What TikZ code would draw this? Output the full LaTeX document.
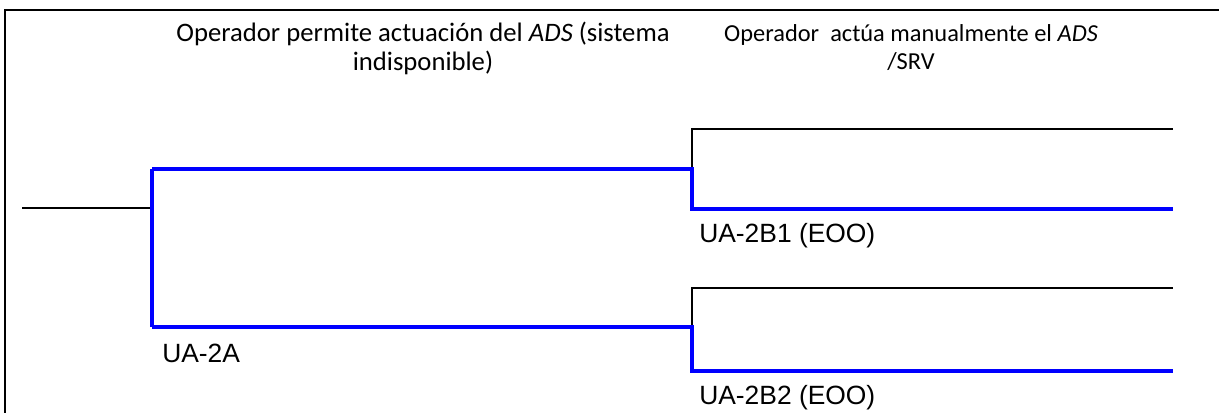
\documentclass[tikz,border=0pt]{standalone}
\usepackage{fontspec}
\setmainfont{Carlito}
\newfontfamily\labfont{Liberation Sans}
\begin{document}
\begin{tikzpicture}[x=0.75pt,y=-0.75pt,
  frameline/.style={draw=black,line width=2pt},
  thinline/.style={draw=black,line width=1.5pt},
  blueline/.style={draw=blue,line width=3pt},
  header/.style={inner sep=0pt,align=center,font=\fontsize{20}{21.8}\selectfont},
  seqlabel/.style={inner sep=0pt,anchor=base west,font=\labfont\fontsize{19.8}{22}\selectfont}]
\useasboundingbox (0,0) rectangle (1219,413);
\fill[white] (0,0) rectangle (1219,413);
% frame
\coordinate (fbl) at (5,413);
\coordinate (ftl) at (5,10);
\coordinate (ftr) at (1219,10);
\draw[frameline] (fbl) -- (ftl) -- (ftr);
% headers
\node[header,anchor=north] (h1) at (423,22) {Operador permite actuación del \textit{ADS} (sistema\\indisponible)};
\node[header,anchor=north,font=\fontsize{18.3}{21.3}\selectfont] (h2) at (911,24) {Operador\ \ actúa manualmente el \textit{ADS}\\/SRV};
% tree coordinates
\coordinate (start) at (22,208);
\coordinate (a) at (152,208);
\coordinate (aT) at (152,169);
\coordinate (aB) at (152,327);
\coordinate (b1) at (692,169);
\coordinate (b1T) at (692,129);
\coordinate (b1B) at (692,209);
\coordinate (e1T) at (1173,129);
\coordinate (e1B) at (1173,209);
\coordinate (b2) at (692,327);
\coordinate (b2T) at (692,288);
\coordinate (b2B) at (692,371);
\coordinate (e2T) at (1173,288);
\coordinate (e2B) at (1173,371);
% black branches
\draw[thinline] (start) -- (a);
\draw[thinline] (b1) -- (b1T) -- (e1T);
\draw[thinline] (b2) -- (b2T) -- (e2T);
% blue (selected) path
\draw[blueline] (aT) -- (aB);
\draw[blueline] (aT) -- (b1) -- (b1B) -- (e1B);
\draw[blueline] (aB) -- (b2) -- (b2B) -- (e2B);
% labels
\node[seqlabel] (l2a) at (162,362) {UA-2A};
\node[seqlabel] (l2b1) at (699,243) {UA-2B1 (EOO)};
\node[seqlabel] (l2b2) at (699,404) {UA-2B2 (EOO)};
\end{tikzpicture}
\end{document}
